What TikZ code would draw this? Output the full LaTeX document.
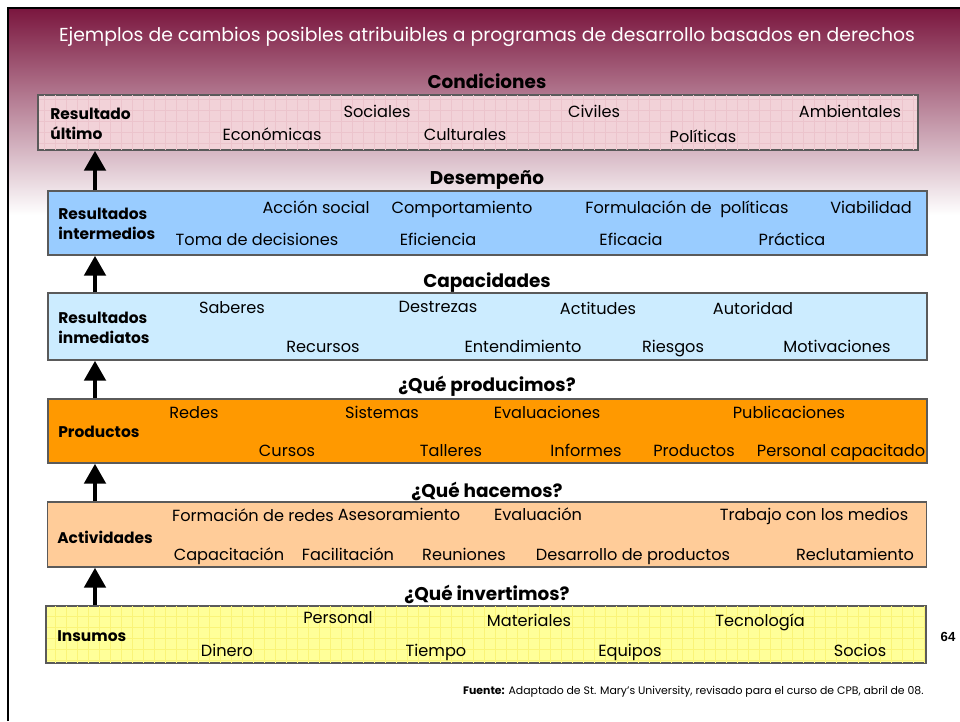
\documentclass[tikz,border=0pt]{standalone}
\usepackage{fontspec}
\setmainfont{Poppins}
\newfontfamily\arialfont{Liberation Sans}
\usetikzlibrary{arrows.meta}
\definecolor{slidered}{RGB}{122,22,62}
\definecolor{slidepink}{RGB}{222,178,188}
\definecolor{boxedge}{RGB}{90,90,90}
\definecolor{pinkfill}{RGB}{242,210,216}
\definecolor{pinkgrid}{RGB}{236,196,204}
\definecolor{bluefill}{RGB}{153,204,255}
\definecolor{skyfill}{RGB}{204,236,255}
\definecolor{orangefill}{RGB}{255,153,0}
\definecolor{peachfill}{RGB}{255,204,153}
\definecolor{yellowfill}{RGB}{255,255,153}
\definecolor{yellowgrid}{RGB}{250,244,120}

\begin{document}
\begin{tikzpicture}
    [
    x=0.02cm, y=-0.02cm,
    box/.style = {draw=boxedge,line width=0.8pt,inner sep=0pt,minimum width=17.58cm},
    item/.style = {font=\fontsize{9.2}{11}\selectfont,inner sep=0pt,text height=1.5ex,text depth=0.3ex},
    level/.style = {font=\fontsize{10.5}{12}\selectfont\bfseries,inner sep=0pt,text height=1.6ex,text depth=0.3ex},
    tag/.style = {font=\fontsize{8.8}{11.5}\selectfont\bfseries,inner sep=0pt,anchor=west,align=left},
    up/.style = {line width=2.8pt,-{Triangle[length=0.4cm,width=0.42cm]}}
    ]
\useasboundingbox (0,0) rectangle (960,721);

% slide background
\shade[top color=slidered,middle color=slidepink,bottom color=white] (8,8) rectangle (960,215);
\draw[line width=1.7pt] (8,721) -- (8,8) -- (960,8);

\node[font=\fontsize{10.7}{13}\selectfont,text=white,inner sep=0pt] (title) at (487,37) {Ejemplos de cambios posibles atribuibles a programas de desarrollo basados en derechos};

% boxes
\node[box,fill=pinkfill,minimum height=1.1cm] (ultimo) at (478,122.5) {};
\node[box,fill=bluefill,minimum height=1.28cm] (intermedios) at (487.5,223) {};
\node[box,fill=skyfill,minimum height=1.34cm] (inmediatos) at (487.5,326.5) {};
\node[box,fill=orangefill,minimum height=1.28cm] (productos) at (487.5,431) {};
\node[box,fill=peachfill,minimum height=1.3cm] (actividades) at (487,534.5) {};
\node[box,fill=yellowfill,minimum height=1.14cm] (insumos) at (486,634.5) {};

\begin{scope}
\clip (ultimo.south west) rectangle (ultimo.north east);
\draw[pinkgrid,line width=0.3pt,step=0.22cm] (ultimo.south west) grid (ultimo.north east);
\end{scope}
\draw[boxedge,line width=0.8pt] (ultimo.south west) rectangle (ultimo.north east);
\begin{scope}
\clip (insumos.south west) rectangle (insumos.north east);
\draw[yellowgrid,line width=0.3pt,step=0.22cm] (insumos.south west) grid (insumos.north east);
\end{scope}
\draw[boxedge,line width=0.8pt] (insumos.south west) rectangle (insumos.north east);

% arrows
\coordinate (ax) at (95,0);
\draw[up] (intermedios.north -| ax) -- (ultimo.south -| ax);
\draw[up] (inmediatos.north -| ax) -- (intermedios.south -| ax);
\draw[up] (productos.north -| ax) -- (inmediatos.south -| ax);
\draw[up] (actividades.north -| ax) -- (productos.south -| ax);
\draw[up] (insumos.north -| ax) -- (actividades.south -| ax);

% levels
\node[level] (condiciones) at (487,82) {Condiciones};
\node[level] (desempeno) at (487,178) {Desempeño};
\node[level] (capacidades) at (487,281) {Capacidades};
\node[level] (producimos) at (487,385) {¿Qué producimos?};
\node[level] (hacemos) at (487,491) {¿Qué hacemos?};
\node[level] (invertimos) at (487,594) {¿Qué invertimos?};

% resultado ultimo
\node[tag] (tagultimo) at (50,123.5) {Resultado\\último};
\node[item] (sociales) at (377,112) {Sociales};
\node[item] (civiles) at (594,112) {Civiles};
\node[item] (ambientales) at (850,112) {Ambientales};
\node[item] (economicas) at (272,135) {Económicas};
\node[item] (culturales) at (465,135) {Culturales};
\node[item] (politicas) at (703,137) {Políticas};

% resultados intermedios
\node[tag] (tagintermedios) at (58,223.5) {Resultados\\intermedios};
\node[item] (accion) at (316,208) {Acción social};
\node[item] (comportamiento) at (462,208) {Comportamiento};
\node[item] (formulacion) at (687,208) {Formulación de\ \ políticas};
\node[item] (viabilidad) at (871,208) {Viabilidad};
\node[item] (toma) at (257,240) {Toma de decisiones};
\node[item] (eficiencia) at (438,240) {Eficiencia};
\node[item] (eficacia) at (631,240) {Eficacia};
\node[item] (practica) at (792,240) {Práctica};

% resultados inmediatos
\node[tag] (taginmediatos) at (58,327.5) {Resultados\\inmediatos};
\node[item] (saberes) at (232,308) {Saberes};
\node[item] (destrezas) at (438,307) {Destrezas};
\node[item] (actitudes) at (598,309) {Actitudes};
\node[item] (autoridad) at (753,309) {Autoridad};
\node[item] (recursos) at (323,347) {Recursos};
\node[item] (entendimiento) at (523,347) {Entendimiento};
\node[item] (riesgos) at (673,347) {Riesgos};
\node[item] (motivaciones) at (837,347) {Motivaciones};

% productos
\node[tag] (tagproductos) at (58,432) {Productos};
\node[item] (redes) at (194,413) {Redes};
\node[item] (sistemas) at (382,413) {Sistemas};
\node[item] (evaluaciones) at (547,413) {Evaluaciones};
\node[item] (publicaciones) at (789,413) {Publicaciones};
\node[item] (cursos) at (287,451) {Cursos};
\node[item] (talleres) at (451,451) {Talleres};
\node[item] (informes) at (586,451) {Informes};
\node[item] (prods) at (694,451) {Productos};
\node[item] (personalcap) at (841,451) {Personal capacitado};

% actividades
\node[tag] (tagactividades) at (57,537) {Actividades};
\node[item] (formacion) at (253,516) {Formación de redes};
\node[item] (asesoramiento) at (399,515) {Asesoramiento};
\node[item] (evaluacion) at (538,515) {Evaluación};
\node[item] (trabajo) at (814,515) {Trabajo con los medios};
\node[item] (capacitacion) at (229,555) {Capacitación};
\node[item] (facilitacion) at (348,555) {Facilitación};
\node[item] (reuniones) at (464,555) {Reuniones};
\node[item] (desarrollo) at (633,555) {Desarrollo de productos};
\node[item] (reclutamiento) at (855,555) {Reclutamiento};

% insumos
\node[tag] (taginsumos) at (57,636) {Insumos};
\node[item] (personal) at (338,618) {Personal};
\node[item] (materiales) at (529,621) {Materiales};
\node[item] (tecnologia) at (760,621) {Tecnología};
\node[item] (dinero) at (227,651) {Dinero};
\node[item] (tiempo) at (436,651) {Tiempo};
\node[item] (equipos) at (630,651) {Equipos};
\node[item] (socios) at (860,651) {Socios};

\node[font=\arialfont\fontsize{7.5}{9}\selectfont\bfseries,inner sep=0pt] (pagina) at (948,637) {64};
\node[anchor=east,font=\fontsize{6.2}{8}\selectfont,inner sep=0pt] (fuente) at (924,692) {\textbf{Fuente:} Adaptado de St. Mary’s University, revisado para el curso de CPB, abril de 08.};

\end{tikzpicture}
\end{document}
